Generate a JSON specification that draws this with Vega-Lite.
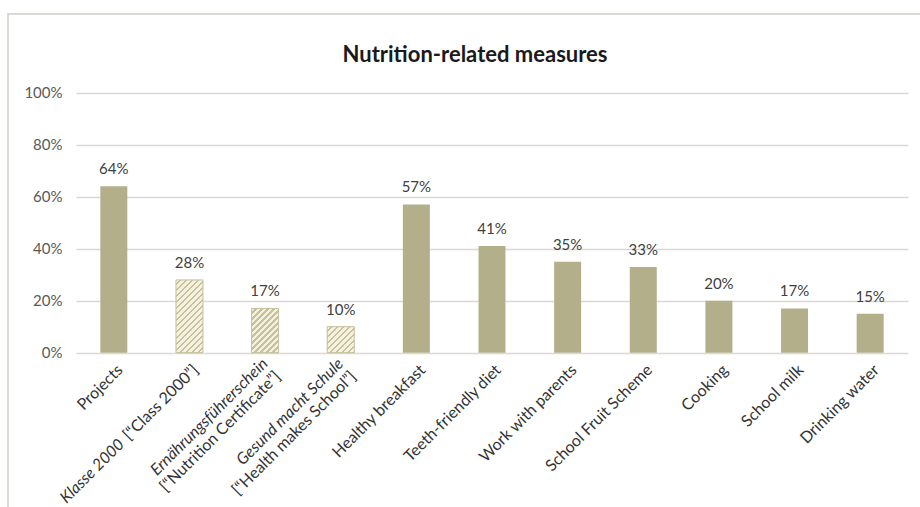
{
  "$schema": "https://vega.github.io/schema/vega-lite/v6.json",
  "width": 916,
  "height": 497,
  "autosize": "none",
  "padding": {"left": 8, "top": 14, "right": -4, "bottom": -4},
  "background": "white",
  "config": {"font": "Lato", "view": {"stroke": "#dcd9d5", "strokeWidth": 2}},
  "title": {"text": "Nutrition-related measures", "font": "Lato", "fontSize": 22, "fontWeight": "bold", "color": "#1a1a1a", "anchor": "middle", "frame": "group", "offset": -70, "dx": 9, "baseline": "alphabetic"},
  "data": {"values": [
    {"measure": "Projects", "en": "Projects", "share": 0.64, "kind": "topic"},
    {"measure": "Klasse 2000", "de": "Klasse 2000", "en": "[“Class 2000”]", "share": 0.28, "kind": "program"},
    {"measure": "Ernährungsführerschein", "de": "Ernährungsführerschein", "en": "[“Nutrition Certificate”]", "share": 0.17, "kind": "program"},
    {"measure": "Gesund macht Schule", "de": "Gesund macht Schule", "en": "[“Health makes School”]", "share": 0.10, "kind": "program"},
    {"measure": "Healthy breakfast", "en": "Healthy breakfast", "share": 0.57, "kind": "topic"},
    {"measure": "Teeth-friendly diet", "en": "Teeth-friendly diet", "share": 0.41, "kind": "topic"},
    {"measure": "Work with parents", "en": "Work with parents", "share": 0.35, "kind": "topic"},
    {"measure": "School Fruit Scheme", "en": "School Fruit Scheme", "share": 0.33, "kind": "topic"},
    {"measure": "Cooking", "en": "Cooking", "share": 0.20, "kind": "topic"},
    {"measure": "School milk", "en": "School milk", "share": 0.17, "kind": "topic"},
    {"measure": "Drinking water", "en": "Drinking water", "share": 0.15, "kind": "topic"}
  ]},
  "encoding": {
    "x": {"field": "measure", "type": "nominal", "sort": null, "axis": null,
      "scale": {"domain": ["Projects", "Klasse 2000", "Ernährungsführerschein", "Gesund macht Schule", "Healthy breakfast", "Teeth-friendly diet", "Work with parents", "School Fruit Scheme", "Cooking", "School milk", "Drinking water"],
        "range": [68, 900], "paddingInner": 0.643, "paddingOuter": 0.3215}}
  },
  "layer": [
    {
      "mark": {"type": "bar", "color": "#b4af8b"},
      "encoding": {"y": {"field": "share", "type": "quantitative", "title": null,
        "scale": {"domain": [-0.6089, 1.3027], "nice": false, "zero": false},
        "axis": {"values": [0, 0.2, 0.4, 0.6, 0.8, 1], "format": ".0%", "offset": -68, "domain": false, "ticks": false, "labelPadding": 14, "labelFont": "Lato", "labelFontSize": 15, "labelColor": "#595959", "grid": true, "gridColor": "#dcd8d3", "gridWidth": 1.5, "title": null}}}
    },
    {
      "transform": [{"filter": "datum.measure == 'Klasse 2000'"}],
      "mark": {"type": "bar", "stroke": "#c6c19c", "strokeWidth": 1,
        "fill": {"gradient": "linear", "x1": 0, "y1": 0, "x2": 0.44696, "y2": 1.2051, "stops": [
          {"offset": 0, "color": "#f4f1de"}, {"offset": 0.0331, "color": "#f4f1de"}, {"offset": 0.0331, "color": "#c6c09b"}, {"offset": 0.0601, "color": "#c6c09b"},
          {"offset": 0.0601, "color": "#f4f1de"}, {"offset": 0.0932, "color": "#f4f1de"}, {"offset": 0.0932, "color": "#c6c09b"}, {"offset": 0.1202, "color": "#c6c09b"},
          {"offset": 0.1202, "color": "#f4f1de"}, {"offset": 0.1533, "color": "#f4f1de"}, {"offset": 0.1533, "color": "#c6c09b"}, {"offset": 0.1804, "color": "#c6c09b"},
          {"offset": 0.1804, "color": "#f4f1de"}, {"offset": 0.2134, "color": "#f4f1de"}, {"offset": 0.2134, "color": "#c6c09b"}, {"offset": 0.2405, "color": "#c6c09b"},
          {"offset": 0.2405, "color": "#f4f1de"}, {"offset": 0.2735, "color": "#f4f1de"}, {"offset": 0.2735, "color": "#c6c09b"}, {"offset": 0.3006, "color": "#c6c09b"},
          {"offset": 0.3006, "color": "#f4f1de"}, {"offset": 0.3337, "color": "#f4f1de"}, {"offset": 0.3337, "color": "#c6c09b"}, {"offset": 0.3607, "color": "#c6c09b"},
          {"offset": 0.3607, "color": "#f4f1de"}, {"offset": 0.3938, "color": "#f4f1de"}, {"offset": 0.3938, "color": "#c6c09b"}, {"offset": 0.4208, "color": "#c6c09b"},
          {"offset": 0.4208, "color": "#f4f1de"}, {"offset": 0.4539, "color": "#f4f1de"}, {"offset": 0.4539, "color": "#c6c09b"}, {"offset": 0.4810, "color": "#c6c09b"},
          {"offset": 0.4810, "color": "#f4f1de"}, {"offset": 0.5140, "color": "#f4f1de"}, {"offset": 0.5140, "color": "#c6c09b"}, {"offset": 0.5411, "color": "#c6c09b"},
          {"offset": 0.5411, "color": "#f4f1de"}, {"offset": 0.5741, "color": "#f4f1de"}, {"offset": 0.5741, "color": "#c6c09b"}, {"offset": 0.6012, "color": "#c6c09b"},
          {"offset": 0.6012, "color": "#f4f1de"}, {"offset": 0.6343, "color": "#f4f1de"}, {"offset": 0.6343, "color": "#c6c09b"}, {"offset": 0.6613, "color": "#c6c09b"},
          {"offset": 0.6613, "color": "#f4f1de"}, {"offset": 0.6944, "color": "#f4f1de"}, {"offset": 0.6944, "color": "#c6c09b"}, {"offset": 0.7214, "color": "#c6c09b"},
          {"offset": 0.7214, "color": "#f4f1de"}, {"offset": 0.7545, "color": "#f4f1de"}, {"offset": 0.7545, "color": "#c6c09b"}, {"offset": 0.7816, "color": "#c6c09b"},
          {"offset": 0.7816, "color": "#f4f1de"}, {"offset": 0.8146, "color": "#f4f1de"}, {"offset": 0.8146, "color": "#c6c09b"}, {"offset": 0.8417, "color": "#c6c09b"},
          {"offset": 0.8417, "color": "#f4f1de"}, {"offset": 0.8747, "color": "#f4f1de"}, {"offset": 0.8747, "color": "#c6c09b"}, {"offset": 0.9018, "color": "#c6c09b"},
          {"offset": 0.9018, "color": "#f4f1de"}, {"offset": 0.9349, "color": "#f4f1de"}, {"offset": 0.9349, "color": "#c6c09b"}, {"offset": 0.9619, "color": "#c6c09b"},
          {"offset": 0.9619, "color": "#f4f1de"}, {"offset": 0.9950, "color": "#f4f1de"}, {"offset": 0.9950, "color": "#c6c09b"}, {"offset": 1, "color": "#c6c09b"}
        ]}},
      "encoding": {"y": {"field": "share", "type": "quantitative", "title": null}}
    },
    {
      "transform": [{"filter": "datum.measure == 'Ernährungsführerschein'"}],
      "mark": {"type": "bar", "stroke": "#c6c19c", "strokeWidth": 1,
        "fill": {"gradient": "linear", "x1": 0, "y1": 0, "x2": 0.71662, "y2": 1.17313, "stops": [
          {"offset": 0, "color": "#f4f1de"}, {"offset": 0.0463, "color": "#f4f1de"}, {"offset": 0.0463, "color": "#c6c09b"}, {"offset": 0.0843, "color": "#c6c09b"},
          {"offset": 0.0843, "color": "#f4f1de"}, {"offset": 0.1306, "color": "#f4f1de"}, {"offset": 0.1306, "color": "#c6c09b"}, {"offset": 0.1685, "color": "#c6c09b"},
          {"offset": 0.1685, "color": "#f4f1de"}, {"offset": 0.2149, "color": "#f4f1de"}, {"offset": 0.2149, "color": "#c6c09b"}, {"offset": 0.2528, "color": "#c6c09b"},
          {"offset": 0.2528, "color": "#f4f1de"}, {"offset": 0.2992, "color": "#f4f1de"}, {"offset": 0.2992, "color": "#c6c09b"}, {"offset": 0.3371, "color": "#c6c09b"},
          {"offset": 0.3371, "color": "#f4f1de"}, {"offset": 0.3834, "color": "#f4f1de"}, {"offset": 0.3834, "color": "#c6c09b"}, {"offset": 0.4213, "color": "#c6c09b"},
          {"offset": 0.4213, "color": "#f4f1de"}, {"offset": 0.4677, "color": "#f4f1de"}, {"offset": 0.4677, "color": "#c6c09b"}, {"offset": 0.5056, "color": "#c6c09b"},
          {"offset": 0.5056, "color": "#f4f1de"}, {"offset": 0.5520, "color": "#f4f1de"}, {"offset": 0.5520, "color": "#c6c09b"}, {"offset": 0.5899, "color": "#c6c09b"},
          {"offset": 0.5899, "color": "#f4f1de"}, {"offset": 0.6362, "color": "#f4f1de"}, {"offset": 0.6362, "color": "#c6c09b"}, {"offset": 0.6742, "color": "#c6c09b"},
          {"offset": 0.6742, "color": "#f4f1de"}, {"offset": 0.7205, "color": "#f4f1de"}, {"offset": 0.7205, "color": "#c6c09b"}, {"offset": 0.7584, "color": "#c6c09b"},
          {"offset": 0.7584, "color": "#f4f1de"}, {"offset": 0.8048, "color": "#f4f1de"}, {"offset": 0.8048, "color": "#c6c09b"}, {"offset": 0.8427, "color": "#c6c09b"},
          {"offset": 0.8427, "color": "#f4f1de"}, {"offset": 0.8890, "color": "#f4f1de"}, {"offset": 0.8890, "color": "#c6c09b"}, {"offset": 0.9270, "color": "#c6c09b"},
          {"offset": 0.9270, "color": "#f4f1de"}, {"offset": 0.9733, "color": "#f4f1de"}, {"offset": 0.9733, "color": "#c6c09b"}, {"offset": 1, "color": "#c6c09b"}
        ]}},
      "encoding": {"y": {"field": "share", "type": "quantitative", "title": null}}
    },
    {
      "transform": [{"filter": "datum.measure == 'Gesund macht Schule'"}],
      "mark": {"type": "bar", "stroke": "#c6c19c", "strokeWidth": 1,
        "fill": {"gradient": "linear", "x1": 0, "y1": 0, "x2": 1.01851, "y2": 0.98078, "stops": [
          {"offset": 0, "color": "#f4f1de"}, {"offset": 0.0623, "color": "#f4f1de"}, {"offset": 0.0623, "color": "#c6c09b"}, {"offset": 0.1132, "color": "#c6c09b"},
          {"offset": 0.1132, "color": "#f4f1de"}, {"offset": 0.1755, "color": "#f4f1de"}, {"offset": 0.1755, "color": "#c6c09b"}, {"offset": 0.2264, "color": "#c6c09b"},
          {"offset": 0.2264, "color": "#f4f1de"}, {"offset": 0.2887, "color": "#f4f1de"}, {"offset": 0.2887, "color": "#c6c09b"}, {"offset": 0.3396, "color": "#c6c09b"},
          {"offset": 0.3396, "color": "#f4f1de"}, {"offset": 0.4019, "color": "#f4f1de"}, {"offset": 0.4019, "color": "#c6c09b"}, {"offset": 0.4528, "color": "#c6c09b"},
          {"offset": 0.4528, "color": "#f4f1de"}, {"offset": 0.5151, "color": "#f4f1de"}, {"offset": 0.5151, "color": "#c6c09b"}, {"offset": 0.5660, "color": "#c6c09b"},
          {"offset": 0.5660, "color": "#f4f1de"}, {"offset": 0.6283, "color": "#f4f1de"}, {"offset": 0.6283, "color": "#c6c09b"}, {"offset": 0.6792, "color": "#c6c09b"},
          {"offset": 0.6792, "color": "#f4f1de"}, {"offset": 0.7415, "color": "#f4f1de"}, {"offset": 0.7415, "color": "#c6c09b"}, {"offset": 0.7925, "color": "#c6c09b"},
          {"offset": 0.7925, "color": "#f4f1de"}, {"offset": 0.8547, "color": "#f4f1de"}, {"offset": 0.8547, "color": "#c6c09b"}, {"offset": 0.9057, "color": "#c6c09b"},
          {"offset": 0.9057, "color": "#f4f1de"}, {"offset": 0.9679, "color": "#f4f1de"}, {"offset": 0.9679, "color": "#c6c09b"}, {"offset": 1, "color": "#c6c09b"}
        ]}},
      "encoding": {"y": {"field": "share", "type": "quantitative", "title": null}}
    },
    {
      "mark": {"type": "text", "baseline": "alphabetic", "dy": -12, "fontSize": 15, "color": "#404040"},
      "encoding": {"y": {"field": "share", "type": "quantitative", "title": null}, "text": {"field": "share", "format": ".0%"}}
    },
    {
      "transform": [{"filter": "!datum.de"}],
      "mark": {"type": "text", "angle": 315, "align": "right", "baseline": "middle", "dx": -6, "dy": 15, "fontSize": 16, "color": "#333333"},
      "encoding": {"y": {"datum": 0, "type": "quantitative", "title": null}, "text": {"field": "en"}}
    },
    {
      "transform": [{"filter": "datum.measure == 'Klasse 2000'"}],
      "mark": {"type": "text", "angle": 315, "align": "right", "baseline": "middle", "dx": -111, "dy": 15, "fontSize": 16, "fontStyle": "italic", "color": "#333333"},
      "encoding": {"y": {"datum": 0, "type": "quantitative", "title": null}, "text": {"field": "de"}}
    },
    {
      "transform": [{"filter": "datum.measure == 'Klasse 2000'"}],
      "mark": {"type": "text", "angle": 315, "align": "right", "baseline": "middle", "dx": -6, "dy": 15, "fontSize": 16, "color": "#333333"},
      "encoding": {"y": {"datum": 0, "type": "quantitative", "title": null}, "text": {"field": "en"}}
    },
    {
      "transform": [{"filter": "datum.de && datum.measure != 'Klasse 2000'"}],
      "mark": {"type": "text", "angle": 315, "align": "right", "baseline": "middle", "dx": -6, "dy": 6, "fontSize": 16, "fontStyle": "italic", "color": "#333333"},
      "encoding": {"y": {"datum": 0, "type": "quantitative", "title": null}, "text": {"field": "de"}}
    },
    {
      "transform": [{"filter": "datum.de && datum.measure != 'Klasse 2000'"}],
      "mark": {"type": "text", "angle": 315, "align": "right", "baseline": "middle", "dx": -6, "dy": 24, "fontSize": 16, "color": "#333333"},
      "encoding": {"y": {"datum": 0, "type": "quantitative", "title": null}, "text": {"field": "en"}}
    }
  ]
}
